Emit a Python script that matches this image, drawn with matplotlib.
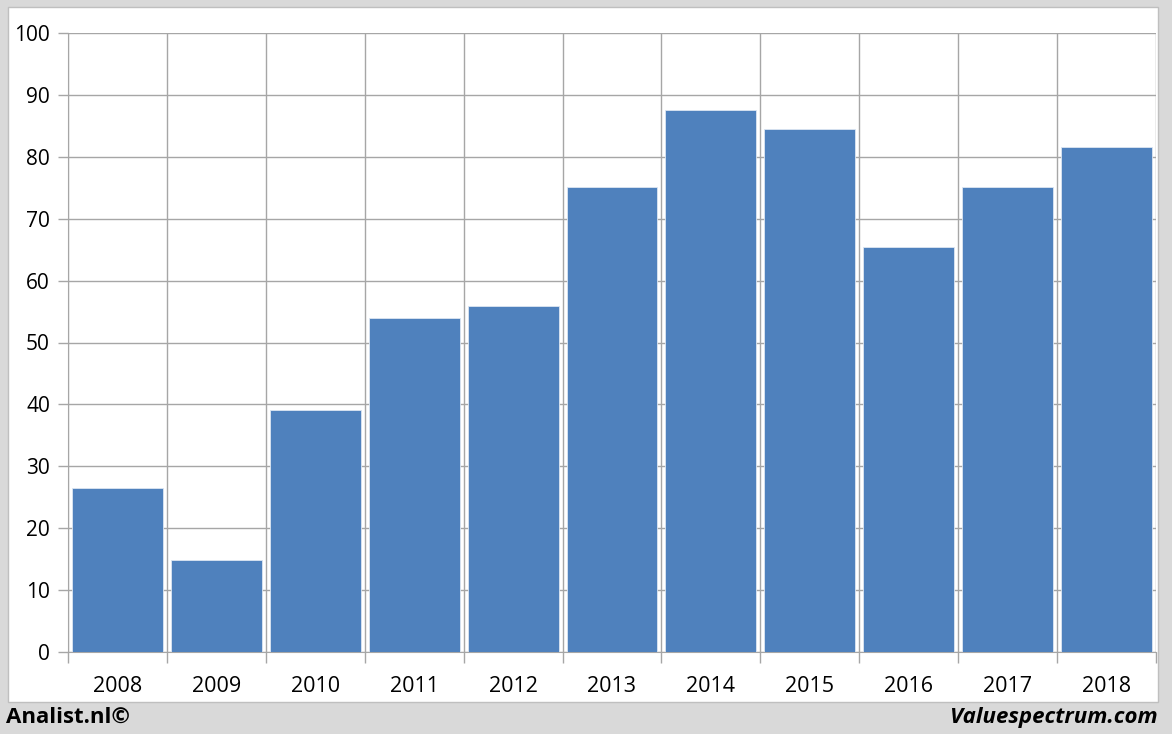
import matplotlib.pyplot as plt
from matplotlib.patches import Rectangle

# data
years = ['2008', '2009', '2010', '2011', '2012', '2013', '2014', '2015', '2016', '2017', '2018']
values = [26.5, 14.9, 39.1, 54.0, 55.9, 75.1, 87.6, 84.5, 65.4, 75.1, 81.6]
y_ticks = [0, 10, 20, 30, 40, 50, 60, 70, 80, 90, 100]

bar_color = '#4F81BD'
grid_color = '#a6a6a6'
font = ['Open Sans', 'DejaVu Sans']

W, H = 1172, 734
fig = plt.figure(figsize=(W / 100, H / 100), dpi=100)
fig.patch.set_facecolor('#d9d9d9')

# white panel behind the chart
fig.patches.append(Rectangle((8 / W, 1 - 702 / H), (1158 - 8) / W, (702 - 7) / H,
                             transform=fig.transFigure, facecolor='white',
                             edgecolor='#bfbfbf', linewidth=1, zorder=-10))

ax = fig.add_axes([68 / W, 1 - 652 / H, (1156 - 68) / W, (652 - 33) / H])
ax.set_facecolor('none')

x = list(range(len(years)))
ax.bar(x, values, width=0.92, color=bar_color, edgecolor='#dce6f2', linewidth=0.6, zorder=3)

ax.set_xlim(-0.5, len(years) - 0.5)
ax.set_ylim(0, 100)
ax.set_yticks(y_ticks)
ax.set_yticklabels([str(t) for t in y_ticks], family=font, fontsize=15)

# category labels centred, tick marks at the boundaries
ax.set_xticks(x)
ax.set_xticklabels(years, family=font, fontsize=15.5)
ax.tick_params(axis='x', length=0, pad=17)
ax.set_xticks([i - 0.5 for i in range(len(years) + 1)], minor=True)
ax.tick_params(axis='x', which='minor', length=8, color=grid_color, width=1)
ax.tick_params(axis='y', length=7, color=grid_color, width=1, pad=6)

ax.grid(True, axis='y', which='major', color=grid_color, linewidth=1, zorder=0)
ax.grid(True, axis='x', which='minor', color=grid_color, linewidth=1, zorder=0)
ax.set_axisbelow(True)

for side in ['top', 'right']:
    ax.spines[side].set_visible(False)
ax.spines['left'].set_color(grid_color)
ax.spines['bottom'].set_color(grid_color)

fig.text(6 / W, 1 - 717 / H, 'Analist.nl©', family=font, fontsize=16,
         fontweight='bold', va='center', ha='left')
fig.text(1158 / W, 1 - 717 / H, 'Valuespectrum.com', family=font, fontsize=16,
         fontweight='bold', fontstyle='italic', va='center', ha='right')

fig.savefig('out.png', dpi=100, facecolor=fig.get_facecolor())
